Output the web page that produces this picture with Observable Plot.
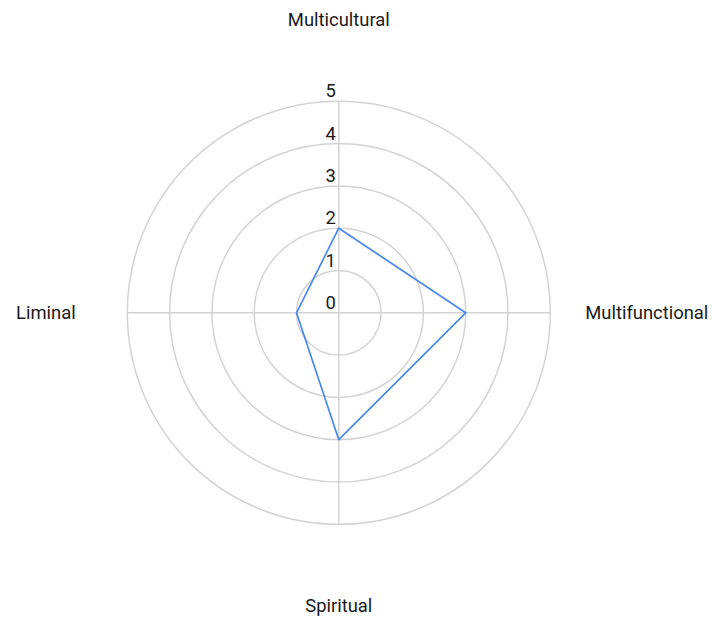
<!DOCTYPE html>
<html>
<head>
<meta charset="utf-8">
<script src="https://cdn.jsdelivr.net/npm/d3@7"></script>
<script src="https://cdn.jsdelivr.net/npm/@observablehq/plot@0.6"></script>
<style>
  html, body { margin: 0; padding: 0; background: #fff; }
  #chart svg { display: block; }
</style>
</head>
<body>
<div id="chart"></div>
<script>
// Data
const categories = ["Multicultural", "Multifunctional", "Spiritual", "Liminal"];
const values = [2, 3, 3, 1];
const ringTicks = [0, 1, 2, 3, 4, 5];

// Layout
const W = 712, H = 619;
const cx = 338.3, cy = 312.3;     // pixel center
const k = 42.3;                    // pixels per unit
const maxV = 5;
const labelR = 293 / k;

const n = categories.length;
const ang = i => i * 2 * Math.PI / n; // clockwise from top
const px = (v, i) => v * Math.sin(ang(i));
const py = (v, i) => v * Math.cos(ang(i));

const pts = categories.map((c, i) => ({c, x: px(values[i], i), y: py(values[i], i)}));
const spokes = categories.map((c, i) => ({x1: 0, y1: 0, x2: px(maxV, i), y2: py(maxV, i)}));
const rings = ringTicks.filter(t => t > 0).map(t => ({r: t}));
const labelData = categories.map((c, i) => ({
  c, x: px(labelR, i), y: py(labelR, i),
  dx: Math.sin(ang(i)) > 0.5 ? 15 : 0
}));

const plot = Plot.plot({
  width: W, height: H,
  margin: 0,
  style: {fontFamily: "Roboto, sans-serif", background: "#fff"},
  x: {domain: [-cx / k, (W - cx) / k], axis: null},
  y: {domain: [-(H - cy) / k, cy / k], axis: null},
  r: {type: "linear", domain: [0, maxV], range: [0, maxV * k]},
  marks: [
    Plot.dot(rings, {x: () => 0, y: () => 0, r: "r", fill: "none", stroke: "#d3d3d3", strokeWidth: 1.5}),
    Plot.link(spokes, {x1: "x1", y1: "y1", x2: "x2", y2: "y2", stroke: "#d3d3d3", strokeWidth: 1.5}),
    Plot.line(pts, {x: "x", y: "y", curve: "linear-closed", stroke: "#4a88ec", strokeWidth: 1.7}),
    Plot.text(ringTicks, {x: () => 0, y: d => d, text: d => String(d), textAnchor: "end", lineAnchor: "bottom", dx: -3, dy: -4, fontSize: 18.4, fill: "#1a1a1a"}),
    ...labelData.map(d => Plot.text([d], {x: "x", y: "y", text: "c", textAnchor: "middle", lineAnchor: "middle", dx: d.dx, fontSize: 18.4, fill: "#1a1a1a"}))
  ]
});
document.getElementById("chart").appendChild(plot);
</script>
</body>
</html>
